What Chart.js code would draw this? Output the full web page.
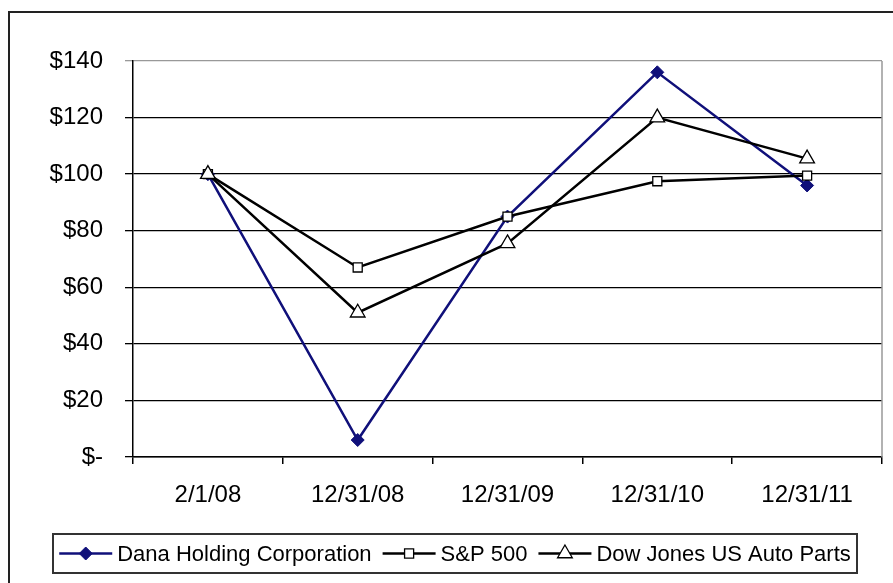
<!DOCTYPE html>
<html>
<head>
<meta charset="utf-8">
<script src="https://cdn.jsdelivr.net/npm/chart.js@4"></script>
<style>
  html, body { margin: 0; padding: 0; background: #fff; }
  #wrap { width: 893px; height: 583px; }
</style>
</head>
<body>
<div id="wrap"><canvas id="myChart" width="893" height="583"></canvas></div>
<script>
// chart values
const dates = ['2/1/08', '12/31/08', '12/31/09', '12/31/10', '12/31/11'];
const dana = [100, 6, 85, 136, 96];
const sp500 = [100, 67, 85, 97.5, 99.5];
const autoParts = [100, 51, 75.5, 120, 105.5];
const yTicks = [0, 20, 40, 60, 80, 100, 120, 140];

const FONT = '"Liberation Sans", Arial, sans-serif';

// outer frame, gray plot border on the right
const framePlugin = {
  id: 'frame',
  beforeDatasetsDraw(chart) {
    const ctx = chart.ctx;
    const a = chart.chartArea;
    ctx.save();
    ctx.strokeStyle = '#999';
    ctx.lineWidth = 1.5;
    ctx.beginPath();
    ctx.moveTo(a.right, a.top);
    ctx.lineTo(a.right, a.bottom);
    ctx.stroke();
    ctx.restore();
  },
  afterDraw(chart) {
    const ctx = chart.ctx;
    ctx.save();
    ctx.strokeStyle = '#222';
    ctx.lineWidth = 2;
    ctx.beginPath();
    ctx.moveTo(9, 583);
    ctx.lineTo(9, 12);
    ctx.lineTo(893, 12);
    ctx.stroke();
    ctx.restore();
  }
};

// draws one marker shape (same shapes the datasets use)
function drawMarker(ctx, style, r, x, y) {
  if (style === 'rectRot') {
    ctx.moveTo(x, y - r); ctx.lineTo(x + r, y); ctx.lineTo(x, y + r); ctx.lineTo(x - r, y); ctx.closePath();
  } else if (style === 'rect') {
    const s = Math.SQRT1_2 * r;
    ctx.rect(x - s, y - s, 2 * s, 2 * s);
  } else {
    const h = Math.sin(Math.PI / 3) * r;
    ctx.moveTo(x, y - r); ctx.lineTo(x + h, y + r / 2); ctx.lineTo(x - h, y + r / 2); ctx.closePath();
  }
}

// legend in a box with line + marker samples, like the spreadsheet one
const boxLegend = {
  id: 'boxLegend',
  afterDraw(chart) {
    const ctx = chart.ctx;
    const box = { x: 53, y: 534, w: 804, h: 39 };
    const cy = box.y + box.h / 2;
    const sampleW = 53, gapText = 5, gapItem = 11;
    ctx.save();
    ctx.font = '22px ' + FONT;
    const sets = chart.data.datasets;
    let total = 0;
    sets.forEach((ds, i) => {
      total += sampleW + gapText + ctx.measureText(ds.label).width;
      if (i < sets.length - 1) total += gapItem;
    });
    ctx.strokeStyle = '#333';
    ctx.lineWidth = 2;
    ctx.strokeRect(box.x, box.y, box.w, box.h);

    let x = box.x + (box.w - total) / 2;
    sets.forEach((ds) => {
      ctx.strokeStyle = ds.borderColor;
      ctx.lineWidth = ds.borderWidth;
      ctx.beginPath();
      ctx.moveTo(x, cy);
      ctx.lineTo(x + sampleW, cy);
      ctx.stroke();
      ctx.fillStyle = ds.pointBackgroundColor;
      ctx.strokeStyle = ds.pointBorderColor;
      ctx.lineWidth = ds.pointBorderWidth;
      ctx.beginPath();
      drawMarker(ctx, ds.pointStyle, ds.pointRadius, x + sampleW / 2, cy);
      ctx.fill();
      ctx.stroke();
      x += sampleW + gapText;
      ctx.fillStyle = '#000';
      ctx.textBaseline = 'middle';
      ctx.textAlign = 'left';
      ctx.fillText(ds.label, x, cy + 1);
      x += ctx.measureText(ds.label).width + gapItem;
    });
    ctx.restore();
  }
};

const ctx = document.getElementById('myChart');

new Chart(ctx, {
  type: 'line',
  data: {
    labels: dates,
    datasets: [{
      label: 'Dana Holding Corporation',
      data: dana,
      borderColor: '#10107a',
      borderWidth: 2.5,
      pointStyle: 'rectRot',
      pointRadius: 6.5,
      pointBackgroundColor: '#10107a',
      pointBorderColor: '#10107a',
      pointBorderWidth: 1,
      order: 3
    }, {
      label: 'S&P 500',
      data: sp500,
      borderColor: '#000',
      borderWidth: 2.5,
      pointStyle: 'rect',
      pointRadius: 6.4,
      pointBackgroundColor: '#fff',
      pointBorderColor: '#000',
      pointBorderWidth: 1.3,
      order: 2
    }, {
      label: 'Dow Jones US Auto Parts',
      data: autoParts,
      borderColor: '#000',
      borderWidth: 2.5,
      pointStyle: 'triangle',
      pointRadius: 8.5,
      pointBackgroundColor: '#fff',
      pointBorderColor: '#000',
      pointBorderWidth: 1.3,
      order: 1
    }]
  },
  options: {
    responsive: false,
    animation: false,
    devicePixelRatio: 1,
    layout: { padding: { left: 0, top: 61, right: 11, bottom: 0 } },
    plugins: {
      legend: { display: false },
      tooltip: { enabled: false }
    },
    scales: {
      x: {
        offset: true,
        afterFit(scale) { scale.height = 126; },
        grid: {
          offset: true,
          drawOnChartArea: false,
          drawTicks: true,
          tickLength: 7,
          color: '#000',
          lineWidth: 1.5
        },
        border: { color: '#000', width: 1.5 },
        ticks: {
          color: '#000',
          padding: 17,
          maxRotation: 0,
          font: { family: FONT, size: 24 }
        }
      },
      y: {
        min: 0,
        max: 140,
        afterFit(scale) { scale.width = 133; },
        afterBuildTicks(scale) { scale.ticks = yTicks.map(v => ({ value: v })); },
        grid: {
          tickLength: 8,
          color: c => (c.tick && c.tick.value === 140 ? '#999' : '#000'),
          lineWidth: 1.3
        },
        border: { color: '#000', width: 1.5 },
        ticks: {
          color: '#000',
          padding: 22,
          font: { family: FONT, size: 24 },
          callback: v => (v === 0 ? '$-' : '$' + v)
        }
      }
    }
  },
  plugins: [framePlugin, boxLegend]
});
</script>
</body>
</html>
